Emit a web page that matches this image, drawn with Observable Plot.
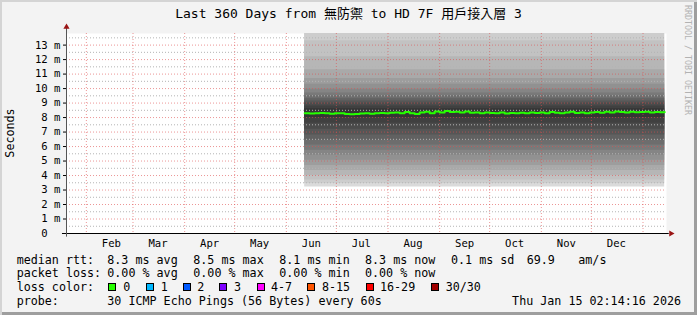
<!DOCTYPE html>
<html><head><meta charset="utf-8">
<script src="https://cdn.jsdelivr.net/npm/d3@7"></script>
<script src="https://cdn.jsdelivr.net/npm/@observablehq/plot@0.6"></script>
<style>
html,body{margin:0;padding:0;background:#f3f3f3;}
#chart{position:relative;width:697px;height:315px;background:#f3f3f3;overflow:hidden;
  font-family:"DejaVu Sans Mono","Noto Sans CJK TC",monospace;color:#000;
  box-shadow: inset 2px 2px 0 #d4d4d4, inset -3px -3px 0 #9e9e9e;}
#chart svg{position:absolute;left:0;top:0;}
.t{position:absolute;white-space:pre;font-size:11.7px;line-height:14px;}
.box{position:absolute;width:8px;height:8px;box-sizing:border-box;border:1px solid #000;}
#title{position:absolute;left:0;top:5.8px;width:697px;text-align:center;font-size:13px;line-height:16px;white-space:pre;}
#credit{position:absolute;left:683px;top:5px;writing-mode:vertical-rl;font-size:8.3px;line-height:10px;color:#b2b2b2;white-space:pre;}
#ylab{position:absolute;left:10px;top:132.5px;transform:translate(-50%,-50%) rotate(-90deg);font-size:11.7px;line-height:14px;white-space:pre;}
</style></head>
<body><div id="chart"></div>
<script>
// ---------- data ----------
const titleText = "Last 360 Days from 無防禦 to HD 7F 用戶接入層 3";
const yAxisTitle = "Seconds";
const creditText = "RRDTOOL / TOBI OETIKER";
const rangeStart = "2025-01-20T02:14:16Z";
const rangeEnd = "2026-01-15T02:14:16Z";
const dataStart = "2025-06-12T00:00:00Z";
const sampleStepDays = 3;
// median rtt (ms) every 3 days from Jun 12 2025
const medianRtt = [
  8.3, 8.28, 8.3, 8.32, 8.3, 8.27, 8.3,
  8.3, 8.25, 8.22, 8.25, 8.28, 8.3, 8.27, 8.3, 8.32, 8.3,
  8.33, 8.35, 8.3, 8.38, 8.3, 8.25, 8.35, 8.4, 8.3, 8.42,
  8.35, 8.45, 8.38, 8.4, 8.35, 8.42, 8.33, 8.35, 8.3, 8.35,
  8.32, 8.3, 8.35, 8.28, 8.32, 8.3, 8.33, 8.3, 8.35, 8.32,
  8.35, 8.3, 8.38, 8.33, 8.3, 8.35, 8.4, 8.32, 8.35, 8.3,
  8.35, 8.38, 8.33, 8.4, 8.35, 8.42, 8.38, 8.35, 8.4, 8.36, 8.38,
  8.4, 8.35, 8.38, 8.36, 8.38
];
// smoke: sorted ping pairs (low / high, ms), outermost first
const smokeLow  = [3.2, 3.45, 3.7, 4.0, 4.35, 4.7, 5.05, 5.4, 5.75, 6.1, 6.45, 6.8, 7.2, 7.6, 8.0];
const smokeHigh = [18, 15, 13.3, 12.2, 11.3, 10.7, 10.3, 9.95, 9.7, 9.5, 9.3, 9.15, 9.0, 8.8, 8.6];
const smokeGray = ["#dadada","#cdcdcd","#c2c2c2","#b6b6b6","#a9a9a9","#9d9d9d","#919191","#858585",
                   "#797979","#6d6d6d","#616161","#565656","#4b4b4b","#404040","#353535"];
const yMajor = [0,1,2,3,4,5,6,7,8,9,10,11,12,13];
const yMinor = [0.5,1.5,2.5,3.5,4.5,5.5,6.5,7.5,8.5,9.5,10.5,11.5,12.5,13.5];
const yMax = 13.8;
const rttLabel = "median rtt:";
const rttStats = ["8.3 ms avg", "8.5 ms max", "8.1 ms min", "8.3 ms now", "0.1 ms sd", "69.9", "am/s"];
const lossLabel = "packet loss:";
const lossStats = ["0.00 % avg", "0.00 % max", "0.00 % min", "0.00 % now"];
const lossColorLabel = "loss color:";
const lossNames = ["0", "1", "2", "3", "4-7", "8-15", "16-29", "30/30"];
const lossColors = ["#26ff00", "#00b8ff", "#0059ff", "#7e00ff", "#ff00ff", "#ff5500", "#ff0000", "#a10000"];
const probeLabel = "probe:";
const probeText = "30 ICMP Echo Pings (56 Bytes) every 60s";
const stampText = "Thu Jan 15 02:14:16 2026";

// ---------- layout ----------
const rowTop = [252.7, 266.3, 280.3, 293.7];
const leftX = 16.7;
const rttX = [107.3, 193.3, 279.3, 365, 451, 526.7, 578.3];
const lossX = [107.3, 193.3, 279.3, 365];
const boxX = [108.3, 145.7, 182.7, 219.3, 256.7, 306.7, 365.7, 430.7];
const boxLabelX = [123.3, 160.7, 197.3, 234, 271, 322, 380, 445.7];

// ---------- build ----------
const start = new Date(rangeStart), end = new Date(rangeEnd);
const t0 = new Date(dataStart);
const rows = medianRtt.map((m, i) => ({date: d3.utcDay.offset(t0, i * sampleStepDays), median: m}));
const monthStarts = d3.utcMonth.range(d3.utcMonth.ceil(start), end);
const labelDates = monthStarts.map(d => d3.utcDay.offset(d, 15)).filter(d => d < end);
const axisLeft = d3.utcHour.offset(start, -58);
const arrowRight = d3.utcHour.offset(end, 65);
const axisRight = d3.utcHour.offset(end, 40);

const smokeMarks = smokeLow.map((lo, i) => Plot.areaY(rows, {
  x: "date", y1: () => lo, y2: () => smokeHigh[i], fill: smokeGray[i], curve: "step-after", clip: true
}));

const chart = Plot.plot({
  width: 697, height: 315,
  marginLeft: 66, marginRight: 31, marginTop: 33, marginBottom: 82,
  style: {background: "transparent", fontFamily: '"DejaVu Sans Mono", monospace', fontSize: "10.6px", color: "#000", overflow: "visible"},
  x: {type: "utc", domain: [start, end], ticks: labelDates, tickFormat: d3.utcFormat("%b"), tickSize: 0, tickPadding: 6, label: null},
  y: {domain: [0, yMax], ticks: yMajor, tickFormat: d => d === 0 ? "0\u00a0\u00a0" : `${d} m`, tickSize: 3, tickPadding: 3, label: null},
  marks: [
    Plot.frame({fill: "white", stroke: null}),
    ...smokeMarks,
    Plot.ruleY(yMinor, {stroke: "#b4b4b4", strokeDasharray: "1,2"}),
    Plot.ruleY(yMajor.filter(d => d > 0), {stroke: "#e05050", strokeOpacity: 0.6, strokeDasharray: "1,2"}),
    Plot.ruleX(monthStarts, {stroke: "#e05050", strokeOpacity: 0.6, strokeDasharray: "1,2"}),
    Plot.line(rows, {x: "date", y: "median", stroke: "#26ff00", strokeWidth: 2, curve: "step-after"}),
    Plot.ruleY([0], {x1: axisLeft, x2: axisRight, stroke: "#000"}),
    Plot.ruleX([start], {y1: -0.25, y2: 14.2, stroke: "#555"}),
    Plot.dot([start], {x: d => d, y: () => 14.25, symbol: "triangle", r: 2.3, fill: "#9a1414", stroke: null}),
    Plot.dot([arrowRight], {x: d => d, y: () => 0, symbol: "triangle", rotate: 90, r: 2.3, fill: "#9a1414", stroke: null})
  ]
});

const root = document.getElementById("chart");
root.appendChild(chart);
function addText(txt, x, y, cls, extra) {
  const el = document.createElement("div");
  el.className = cls || "t";
  el.textContent = txt;
  if (x != null) el.style.left = x + "px";
  if (y != null) el.style.top = y + "px";
  if (extra) Object.assign(el.style, extra);
  root.appendChild(el);
  return el;
}
const title = addText(titleText, null, null, ""); title.id = "title";
const credit = addText(creditText, null, null, ""); credit.id = "credit";
const ylab = addText(yAxisTitle, null, null, ""); ylab.id = "ylab";

addText(rttLabel, leftX, rowTop[0]);
rttStats.forEach((s, i) => addText(s, rttX[i], rowTop[0]));
addText(lossLabel, leftX, rowTop[1]);
lossStats.forEach((s, i) => addText(s, lossX[i], rowTop[1]));
addText(lossColorLabel, leftX, rowTop[2]);
lossNames.forEach((n, i) => {
  const b = document.createElement("div");
  b.className = "box";
  b.style.left = boxX[i] + "px";
  b.style.top = "283px";
  b.style.background = lossColors[i];
  root.appendChild(b);
  addText(n, boxLabelX[i], rowTop[2]);
});
addText(probeLabel, leftX, rowTop[3]);
addText(probeText, rttX[0], rowTop[3]);
addText(stampText, null, rowTop[3], "t", {right: "16px"});
</script>
</body></html>
